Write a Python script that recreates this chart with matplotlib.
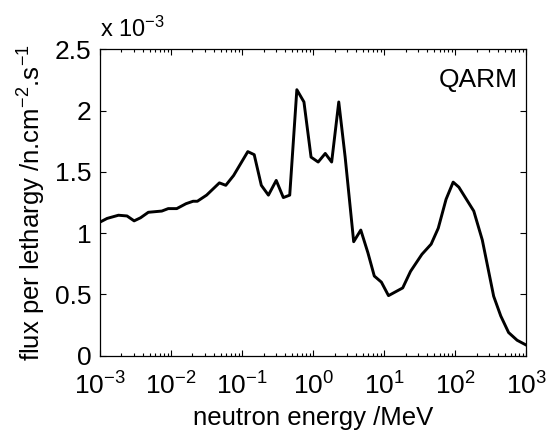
import numpy as np
import matplotlib
matplotlib.use('Agg')
import matplotlib.pyplot as plt
from matplotlib.ticker import LogLocator, FixedLocator, FuncFormatter

plt.rcParams['font.family'] = ['Liberation Sans', 'DejaVu Sans']
plt.rcParams['mathtext.fontset'] = 'custom'
plt.rcParams['mathtext.rm'] = 'Liberation Sans'
plt.rcParams['mathtext.it'] = 'Liberation Sans:italic'
plt.rcParams['mathtext.default'] = 'regular'

# neutron spectrum
# log10 of energy (MeV)
log_energy = [-3.00, -2.90, -2.74, -2.62, -2.52, -2.43, -2.32, -2.13, -2.04, -1.92,
              -1.79, -1.69, -1.63, -1.50, -1.32, -1.23, -1.12, -0.92, -0.83, -0.73,
              -0.63, -0.52, -0.42, -0.33, -0.23, -0.13, -0.03, 0.07, 0.17, 0.26,
              0.36, 0.45, 0.57, 0.67, 0.77, 0.86, 0.96, 1.06, 1.26, 1.37,
              1.53, 1.66, 1.76, 1.87, 1.97, 2.05, 2.26, 2.38, 2.54, 2.64,
              2.75, 2.87, 3.00]
# flux per lethargy, units of 1e-3 n/cm2/s
flux = [1.09, 1.12, 1.146, 1.14, 1.10, 1.125, 1.17, 1.18, 1.20, 1.20,
        1.24, 1.26, 1.26, 1.31, 1.41, 1.39, 1.47, 1.665, 1.64, 1.39,
        1.31, 1.43, 1.29, 1.31, 2.17, 2.07, 1.62, 1.58, 1.65, 1.58,
        2.07, 1.62, 0.93, 1.025, 0.84, 0.65, 0.60, 0.49, 0.553, 0.688,
        0.827, 0.91, 1.04, 1.276, 1.416, 1.375, 1.18, 0.944, 0.485, 0.324,
        0.189, 0.126, 0.086]

energy = 10.0 ** np.array(log_energy)

fig = plt.figure(figsize=(5.48, 4.36), dpi=100)
ax = fig.add_axes([0.1825, 0.1842, 0.778, 0.7028])

ax.plot(energy, flux, 'k-', lw=2.1)

ax.set_xscale('log')
ax.set_xlim(1e-3, 1e3)
ax.set_ylim(0, 2.5)
ax.xaxis.set_major_locator(LogLocator(base=10, numticks=10))
ax.xaxis.set_minor_locator(LogLocator(base=10, subs=np.arange(2, 10), numticks=20))
ax.yaxis.set_major_locator(FixedLocator([0, 0.5, 1, 1.5, 2, 2.5]))
ax.yaxis.set_major_formatter(FuncFormatter(lambda v, p: ('%g' % v)))

ax.tick_params(which='both', direction='in', top=True, right=True, labelsize=19)
ax.tick_params(which='major', length=4, width=0.8)
ax.tick_params(which='minor', length=2.2, width=0.8)
ax.tick_params(axis='x', pad=12)
ax.tick_params(axis='y', pad=6)
for s in ax.spines.values():
    s.set_linewidth(0.9)

ax.set_xlabel('neutron energy /MeV', fontsize=18.5, labelpad=5)
ax.set_ylabel('flux per lethargy /n.cm$^{-2}$.s$^{-1}$', fontsize=18.5, labelpad=5)

ax.text(0.0, 1.025, 'x 10$^{-3}$', transform=ax.transAxes, fontsize=17,
        ha='left', va='bottom')
ax.text(0.98, 0.94, 'QARM', transform=ax.transAxes, fontsize=19,
        ha='right', va='top')

fig.savefig('out.png', dpi=100)
